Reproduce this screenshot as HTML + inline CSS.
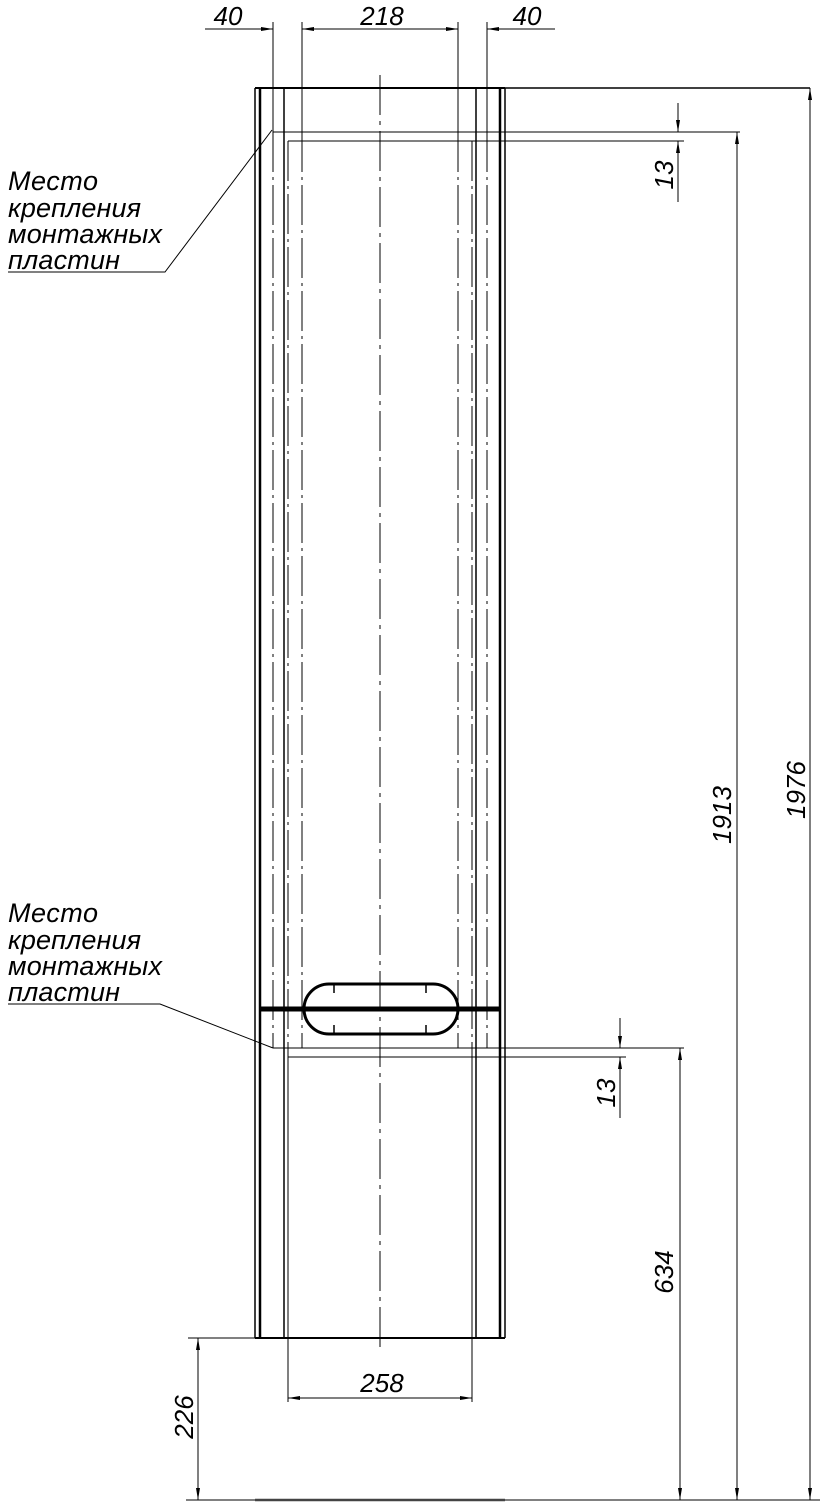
<!DOCTYPE html>
<html><head><meta charset="utf-8"><style>
html,body{margin:0;padding:0;background:#fff}
svg{display:block}
text{font-family:"Liberation Sans",sans-serif;font-style:italic;fill:#000}
</style></head><body>
<svg width="820" height="1510" viewBox="0 0 820 1510" xmlns="http://www.w3.org/2000/svg">
<defs>
<marker id="a" viewBox="0 0 12 4" refX="12" refY="2" markerWidth="12" markerHeight="4" orient="auto-start-reverse" markerUnits="userSpaceOnUse"><path d="M0,0 L12,2 L0,4 z" fill="#000"/></marker>
</defs>
<g stroke="#000" fill="none">
<line x1="255" y1="88" x2="810" y2="88" stroke-width="1.5"/>
<line x1="255" y1="88" x2="505" y2="88" stroke-width="2"/>
<line x1="255" y1="1338" x2="505" y2="1338" stroke-width="2"/>
<line x1="255" y1="88" x2="255" y2="1338" stroke-width="1.5"/>
<line x1="260" y1="88" x2="260" y2="1338" stroke-width="2.5"/>
<line x1="284" y1="88" x2="284" y2="1338" stroke-width="1.5"/>
<line x1="288" y1="1057" x2="288" y2="1402" stroke-width="1"/>
<line x1="476" y1="88" x2="476" y2="1338" stroke-width="1.5"/>
<line x1="472" y1="1057" x2="472" y2="1402" stroke-width="1"/>
<line x1="500" y1="88" x2="500" y2="1338" stroke-width="2.5"/>
<line x1="505" y1="88" x2="505" y2="1338" stroke-width="1.5"/>
<line x1="380" y1="75" x2="380" y2="1352" stroke-width="1" stroke-dasharray="40,6,4,6"/>
<g stroke-width="1" stroke-dasharray="40,5,3,5">
<line x1="273" y1="132" x2="273" y2="1048"/>
<line x1="302" y1="132" x2="302" y2="1048"/>
<line x1="458" y1="132" x2="458" y2="1048"/>
<line x1="487" y1="132" x2="487" y2="1048"/>
<line x1="288" y1="141" x2="288" y2="1057"/>
<line x1="472" y1="141" x2="472" y2="1057"/>
</g>
<line x1="273" y1="132" x2="740" y2="132" stroke-width="1"/>
<line x1="288" y1="141" x2="684" y2="141" stroke-width="1"/>
<line x1="273" y1="1048" x2="684" y2="1048" stroke-width="1"/>
<line x1="288" y1="1057" x2="626" y2="1057" stroke-width="1"/>
<line x1="273" y1="22" x2="273" y2="132" stroke-width="1"/>
<line x1="302" y1="22" x2="302" y2="132" stroke-width="1"/>
<line x1="458" y1="22" x2="458" y2="132" stroke-width="1"/>
<line x1="487" y1="22" x2="487" y2="132" stroke-width="1"/>
<line x1="205" y1="29" x2="273" y2="29" stroke-width="1" marker-end="url(#a)"/>
<line x1="302" y1="29" x2="458" y2="29" stroke-width="1" marker-start="url(#a)" marker-end="url(#a)"/>
<line x1="555" y1="29" x2="487" y2="29" stroke-width="1" marker-end="url(#a)"/>
<line x1="678" y1="103" x2="678" y2="132" stroke-width="1" marker-end="url(#a)"/>
<line x1="678" y1="202" x2="678" y2="141" stroke-width="1" marker-end="url(#a)"/>
<line x1="620" y1="1018" x2="620" y2="1048" stroke-width="1" marker-end="url(#a)"/>
<line x1="620" y1="1118" x2="620" y2="1057" stroke-width="1" marker-end="url(#a)"/>
<line x1="810" y1="88" x2="810" y2="1500" stroke-width="1" marker-start="url(#a)" marker-end="url(#a)"/>
<line x1="737" y1="132" x2="737" y2="1500" stroke-width="1" marker-start="url(#a)" marker-end="url(#a)"/>
<line x1="680" y1="1048" x2="680" y2="1500" stroke-width="1" marker-start="url(#a)" marker-end="url(#a)"/>
<line x1="198" y1="1338" x2="198" y2="1500" stroke-width="1" marker-start="url(#a)" marker-end="url(#a)"/>
<line x1="188" y1="1338" x2="255" y2="1338" stroke-width="1"/>
<line x1="186" y1="1500" x2="820" y2="1500" stroke-width="1"/>
<line x1="255" y1="1500" x2="505" y2="1500" stroke-width="2.5" stroke="#444"/>
<line x1="288" y1="1398" x2="472" y2="1398" stroke-width="1" marker-start="url(#a)" marker-end="url(#a)"/>
<line x1="260" y1="1009" x2="500" y2="1009" stroke-width="5"/>
<path d="M329,984 H433 A25,25 0 0 1 433,1034 H329 A25,25 0 0 1 329,984 Z" stroke-width="3"/>
<line x1="304" y1="1009" x2="458" y2="1009" stroke-width="2"/>
<g stroke-width="1.5">
<line x1="334" y1="984" x2="334" y2="993"/><line x1="426" y1="984" x2="426" y2="993"/>
<line x1="334" y1="1034" x2="334" y2="1025"/><line x1="426" y1="1034" x2="426" y2="1025"/>
</g>
<polyline points="8,272 165,272 272,130" stroke-width="1"/>
<polyline points="8,1004 160,1004 273,1048" stroke-width="1"/>
</g>
<g font-size="27">
<text x="8" y="190" textLength="90">Место</text>
<text x="8" y="217" textLength="133">крепления</text>
<text x="8" y="243" textLength="154">монтажных</text>
<text x="8" y="269" textLength="112">пластин</text>
<text x="8" y="922" textLength="90">Место</text>
<text x="8" y="949" textLength="133">крепления</text>
<text x="8" y="975" textLength="154">монтажных</text>
<text x="8" y="1001" textLength="112">пластин</text>
</g>
<g font-size="26">
<text x="228" y="25" text-anchor="middle">40</text>
<text x="382" y="25" text-anchor="middle">218</text>
<text x="527" y="25" text-anchor="middle">40</text>
<text x="382" y="1392" text-anchor="middle">258</text>
<text transform="translate(673,175) rotate(-90)" text-anchor="middle">13</text>
<text transform="translate(615,1093) rotate(-90)" text-anchor="middle">13</text>
<text transform="translate(731,815) rotate(-90)" text-anchor="middle">1913</text>
<text transform="translate(805,790) rotate(-90)" text-anchor="middle">1976</text>
<text transform="translate(673,1272) rotate(-90)" text-anchor="middle">634</text>
<text transform="translate(193,1417) rotate(-90)" text-anchor="middle">226</text>
</g>
</svg>
</body></html>
